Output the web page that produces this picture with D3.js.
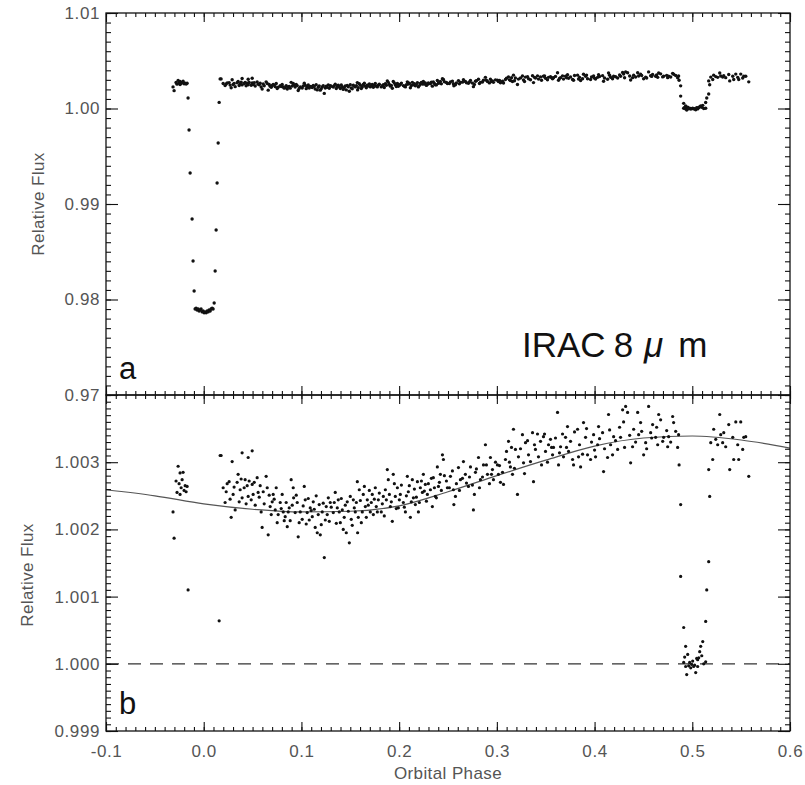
<!DOCTYPE html>
<html>
<head>
<meta charset="utf-8">
<script src="https://cdn.jsdelivr.net/npm/d3@7"></script>
<style>
  body { margin: 0; background: #fff; }
  text { font-family: "Liberation Sans", Arial, sans-serif; }
  .tick text { fill: #555; font-size: 17px; letter-spacing: 0.6px; }
  .tick line { stroke: #111; stroke-width: 1.1; }
  .domain { display: none; }
  .title { fill: #555; font-size: 17px; letter-spacing: 0.4px; }
</style>
</head>
<body>
<svg id="chart" width="805" height="785"></svg>
<script>
// ---- data: [orbital phase, relative flux] ----
var preTransit = [
  [-0.0314, 1.00226], [-0.0303, 1.00187], [-0.0283, 1.00272], [-0.0273, 1.00255], [-0.0262, 1.00294],
  [-0.0252, 1.00268], [-0.0242, 1.00284], [-0.0242, 1.00252], [-0.0231, 1.00262], [-0.0221, 1.00274],
  [-0.0211, 1.00285], [-0.0201, 1.00258], [-0.019, 1.00265], [-0.018, 1.00256], [-0.017, 1.00264]
];
var primaryTransit = [
  [-0.016, 1.0011], [-0.015, 0.99775], [-0.0139, 0.99325], [-0.0119, 0.98843],
  [-0.0109, 0.98403], [-0.0098, 0.98089], [-0.0088, 0.9790], [-0.0078, 0.9791],
  [-0.0068, 0.9789], [-0.0057, 0.9790], [-0.0047, 0.9788], [-0.0037, 0.9789],
  [-0.0027, 0.9790], [-0.0016, 0.9787], [-0.0006, 0.9788], [0.0004, 0.9786],
  [0.0014, 0.9787], [0.0025, 0.9786], [0.0035, 0.9788], [0.0045, 0.9787],
  [0.0055, 0.9789], [0.0066, 0.9788], [0.0076, 0.9790], [0.0086, 0.9791],
  [0.0096, 0.9790], [0.0107, 0.97963], [0.0117, 0.98298], [0.0127, 0.98728],
  [0.0137, 0.9922], [0.0148, 0.99639], [0.0158, 1.00064], [0.0168, 1.0031]
];
var orbit = [
  [0.0178, 1.00310], [0.0199, 1.00262], [0.0219, 1.00240], [0.026, 1.00271], [0.0281, 1.00218],
  [0.0291, 1.00301], [0.0301, 1.00252], [0.0322, 1.00229], [0.0352, 1.00282], [0.0373, 1.00259],
  [0.0393, 1.00314], [0.0393, 1.00247], [0.0424, 1.00274], [0.0445, 1.00265], [0.0455, 1.00307],
  [0.0455, 1.00249], [0.0496, 1.00317], [0.0496, 1.00267], [0.0506, 1.00252], [0.0547, 1.00277],
  [0.0557, 1.00255], [0.0578, 1.00265], [0.0598, 1.00203], [0.0609, 1.00256], [0.0639, 1.00279],
  [0.065, 1.00262], [0.066, 1.00192], [0.068, 1.00234], [0.0701, 1.00241], [0.0711, 1.00252],
  [0.0732, 1.00229], [0.0762, 1.00222], [0.0783, 1.0024], [0.0814, 1.00226], [0.0834, 1.00219],
  [0.0855, 1.00204], [0.0875, 1.00232], [0.0895, 1.00274], [0.0916, 1.00262], [0.092, 1.00247],
  [0.0936, 1.00225], [0.0957, 1.0024], [0.0967, 1.00189], [0.0988, 1.00226], [0.1008, 1.00215],
  [0.1029, 1.00264], [0.1039, 1.00244], [0.1059, 1.00225], [0.109, 1.00232], [0.1111, 1.00219],
  [0.1121, 1.00241], [0.1141, 1.00203], [0.1162, 1.00195], [0.1172, 1.00222], [0.1193, 1.00192],
  [0.1213, 1.00226], [0.1234, 1.00158], [0.1254, 1.00234], [0.1275, 1.00247], [0.1295, 1.0024],
  [0.1326, 1.00225], [0.1346, 1.00255], [0.1367, 1.00232], [0.1377, 1.00244], [0.1398, 1.0021],
  [0.1418, 1.00229], [0.1428, 1.002], [0.1459, 1.00195], [0.1469, 1.00241], [0.149, 1.0018],
  [0.151, 1.00215], [0.1531, 1.00244], [0.1551, 1.00226], [0.1572, 1.00271], [0.1575, 1.00195],
  [0.1592, 1.00259], [0.1613, 1.0021], [0.1633, 1.00252], [0.1654, 1.00234], [0.1674, 1.00244],
  [0.1705, 1.00226], [0.1725, 1.00252], [0.1736, 1.00222], [0.1766, 1.00234], [0.1787, 1.00244],
  [0.1817, 1.00226], [0.1838, 1.00249], [0.1859, 1.00259], [0.1879, 1.00289], [0.1889, 1.00274],
  [0.191, 1.00234], [0.193, 1.00212], [0.194, 1.00282], [0.1961, 1.00249], [0.1982, 1.00262],
  [0.1992, 1.00232], [0.2012, 1.00252], [0.2043, 1.0024], [0.2064, 1.00226], [0.2084, 1.00279],
  [0.2094, 1.00256], [0.2115, 1.00218], [0.2135, 1.00274], [0.2146, 1.00247], [0.2166, 1.00237],
  [0.2187, 1.00271], [0.2197, 1.00226], [0.2217, 1.00262], [0.2238, 1.00255], [0.2248, 1.00282],
  [0.2268, 1.00267], [0.2289, 1.00252], [0.232, 1.00259], [0.234, 1.00234], [0.235, 1.00277],
  [0.2371, 1.00249], [0.2391, 1.00293], [0.2402, 1.00264], [0.2422, 1.00282], [0.2443, 1.00311],
  [0.2453, 1.00304], [0.2494, 1.00262], [0.2525, 1.00279], [0.2555, 1.00259], [0.256, 1.00237],
  [0.2576, 1.00249], [0.2607, 1.00292], [0.2627, 1.00274], [0.2658, 1.00301], [0.2678, 1.00282],
  [0.2709, 1.00264], [0.273, 1.00293], [0.276, 1.00229], [0.277, 1.00252], [0.2781, 1.00285],
  [0.2812, 1.00307], [0.2832, 1.00274], [0.2863, 1.00296], [0.2883, 1.00326], [0.2904, 1.00282],
  [0.2934, 1.00307], [0.2955, 1.00289], [0.2965, 1.00274], [0.3006, 1.00296], [0.3016, 1.00282],
  [0.3037, 1.0027], [0.3068, 1.00267], [0.3088, 1.00304], [0.3119, 1.00331], [0.3139, 1.00293],
  [0.316, 1.00282], [0.317, 1.00349], [0.319, 1.00319], [0.3211, 1.00252], [0.3221, 1.00308],
  [0.3262, 1.00341], [0.3273, 1.00299], [0.3293, 1.00329], [0.3324, 1.00311], [0.3365, 1.00344],
  [0.3375, 1.00271], [0.3395, 1.00319], [0.3426, 1.00308], [0.3447, 1.00331], [0.3477, 1.00338],
  [0.3498, 1.00316], [0.3529, 1.00326], [0.3549, 1.00334], [0.357, 1.00311], [0.358, 1.00322],
  [0.3621, 1.00374], [0.3631, 1.00296], [0.3652, 1.00323], [0.3682, 1.00308], [0.3703, 1.00337],
  [0.3723, 1.00353], [0.3734, 1.00316], [0.3775, 1.00304], [0.3785, 1.00296], [0.3826, 1.00349],
  [0.3836, 1.00308], [0.3857, 1.00293], [0.3887, 1.00359], [0.3908, 1.00337], [0.3928, 1.00311],
  [0.3959, 1.00304], [0.399, 1.00341], [0.401, 1.00308], [0.4031, 1.00326], [0.4041, 1.00353],
  [0.4082, 1.00344], [0.4092, 1.00286], [0.4133, 1.00307], [0.4143, 1.00371], [0.4164, 1.00326],
  [0.4184, 1.00311], [0.4195, 1.00338], [0.4236, 1.00319], [0.4266, 1.00337], [0.4287, 1.00378],
  [0.4297, 1.0036], [0.4318, 1.00383], [0.4338, 1.00374], [0.4369, 1.00299], [0.4389, 1.00323],
  [0.44, 1.00349], [0.4441, 1.00374], [0.4451, 1.00341], [0.4471, 1.00359], [0.4502, 1.00311],
  [0.4523, 1.00329], [0.4553, 1.00383], [0.4574, 1.00344], [0.4594, 1.00356], [0.4625, 1.00337],
  [0.4646, 1.00326], [0.4656, 1.00371], [0.4676, 1.00363], [0.4707, 1.00337], [0.4748, 1.00323],
  [0.4758, 1.00338], [0.4799, 1.00368], [0.4809, 1.00359], [0.485, 1.00322], [0.486, 1.00341],
  [0.4865, 1.00296]
];
// more points of the same out-of-eclipse cloud, read where it is densest
var orbitDense = [
  [0.0230, 1.00256], [0.0240, 1.00268], [0.0270, 1.00245], [0.0311, 1.00263], [0.0342, 1.00270],
  [0.0363, 1.00241], [0.0383, 1.00275], [0.0414, 1.00262], [0.0434, 1.00238], [0.0465, 1.00272],
  [0.0486, 1.00244], [0.0517, 1.00270], [0.0527, 1.00236], [0.0568, 1.00248], [0.0588, 1.00226],
  [0.0619, 1.00238], [0.0670, 1.00251], [0.0691, 1.00222], [0.0721, 1.00245], [0.0742, 1.00262],
  [0.0752, 1.00210], [0.0793, 1.00231], [0.0803, 1.00252], [0.0824, 1.00213], [0.0844, 1.00240],
  [0.0865, 1.00226], [0.0885, 1.00213], [0.0906, 1.00236], [0.0947, 1.00251], [0.0977, 1.00210],
  [0.1018, 1.00235], [0.1049, 1.00208], [0.1070, 1.00246], [0.1080, 1.00214], [0.1100, 1.00228],
  [0.1131, 1.00230], [0.1151, 1.00250], [0.1182, 1.00237], [0.1203, 1.00207], [0.1223, 1.00239],
  [0.1244, 1.00214], [0.1264, 1.00222], [0.1285, 1.00212], [0.1305, 1.00233], [0.1336, 1.00240],
  [0.1357, 1.00209], [0.1387, 1.00226], [0.1408, 1.00246], [0.1438, 1.00218], [0.1449, 1.00236],
  [0.1480, 1.00227], [0.1500, 1.00249], [0.1520, 1.00206], [0.1541, 1.00232], [0.1562, 1.00240],
  [0.1582, 1.00218], [0.1603, 1.00243], [0.1623, 1.00226], [0.1644, 1.00264], [0.1664, 1.00218],
  [0.1684, 1.00236], [0.1695, 1.00258], [0.1715, 1.00240], [0.1746, 1.00245], [0.1756, 1.00262],
  [0.1777, 1.00226], [0.1797, 1.00254], [0.1828, 1.00238], [0.1848, 1.00220], [0.1869, 1.00244],
  [0.1900, 1.00252], [0.1920, 1.00241], [0.1951, 1.00268], [0.1971, 1.00231], [0.2002, 1.00244],
  [0.2023, 1.00266], [0.2053, 1.00233], [0.2074, 1.00250], [0.2104, 1.00265], [0.2125, 1.00241],
  [0.2156, 1.00260], [0.2176, 1.00248], [0.2207, 1.00240], [0.2228, 1.00272], [0.2258, 1.00257],
  [0.2279, 1.00242], [0.2299, 1.00268], [0.2330, 1.00276], [0.2361, 1.00262], [0.2381, 1.00247],
  [0.2412, 1.00270], [0.2432, 1.00258], [0.2463, 1.00280], [0.2484, 1.00272], [0.2514, 1.00262],
  [0.2545, 1.00287], [0.2586, 1.00268], [0.2617, 1.00258], [0.2648, 1.00276], [0.2689, 1.00269],
  [0.2720, 1.00278], [0.2750, 1.00266], [0.2791, 1.00290], [0.2822, 1.00262], [0.2853, 1.00278],
  [0.2893, 1.00296], [0.2924, 1.00268], [0.2945, 1.00282], [0.2986, 1.00300], [0.3027, 1.00295],
  [0.3058, 1.00285], [0.3099, 1.00316], [0.3129, 1.00300], [0.3150, 1.00322], [0.3180, 1.00291],
  [0.3242, 1.00320], [0.3283, 1.00283], [0.3314, 1.00332], [0.3344, 1.00301], [0.3385, 1.00326],
  [0.3416, 1.00342], [0.3457, 1.00296], [0.3488, 1.00342], [0.3518, 1.00300], [0.3560, 1.00322],
  [0.3600, 1.00336], [0.3641, 1.00314], [0.3672, 1.00342], [0.3713, 1.00322], [0.3754, 1.00331],
  [0.3795, 1.00345], [0.3846, 1.00326], [0.3877, 1.00312], [0.3918, 1.00350], [0.3969, 1.00330],
  [0.4000, 1.00318], [0.4051, 1.00335], [0.4102, 1.00320], [0.4154, 1.00348], [0.4215, 1.00332],
  [0.4256, 1.00352], [0.4307, 1.00322], [0.4359, 1.00340], [0.4420, 1.00330], [0.4482, 1.00346],
  [0.4533, 1.00320], [0.4584, 1.00336], [0.4635, 1.00352], [0.4697, 1.00331], [0.4738, 1.00347],
  [0.4779, 1.00330], [0.4830, 1.00346]
];
var secondaryEclipse = [
  [0.4881, 1.00237], [0.4881, 1.0013], [0.4912, 1.00054], [0.4932, 1.00026], [0.4953, 1.00014],
  [0.4912, 1.00002], [0.4922, 1.0001], [0.4932, 0.99996], [0.4943, 0.99984], [0.4963, 0.99997],
  [0.4973, 1.00002], [0.4984, 0.99994], [0.4994, 0.99999], [0.5004, 1.00004], [0.5014, 0.99996],
  [0.5024, 0.99998], [0.5035, 0.99987], [0.5055, 0.99996], [0.5055, 1.00006], [0.5045, 1.00008],
  [0.5066, 1.00009], [0.5076, 1.00018], [0.5086, 1.00026], [0.5097, 1.00012], [0.5107, 1.00033],
  [0.5117, 1.0], [0.5137, 1.00003], [0.5137, 1.00063], [0.5148, 1.0011], [0.5168, 1.00152]
];
var postEclipse = [
  [0.5168, 1.00289], [0.5178, 1.00249], [0.5189, 1.00329], [0.5209, 1.00304], [0.5219, 1.00349],
  [0.524, 1.00334], [0.526, 1.00326], [0.5281, 1.00371], [0.5291, 1.00341], [0.5311, 1.00329],
  [0.5322, 1.00344], [0.5342, 1.00323], [0.5373, 1.00356], [0.5383, 1.00289], [0.5414, 1.00337],
  [0.5424, 1.00304], [0.5445, 1.0036], [0.5465, 1.00326], [0.5475, 1.00304], [0.5496, 1.0036],
  [0.5516, 1.00319], [0.5527, 1.00337], [0.5547, 1.00338], [0.5578, 1.00279]
];
// phase-curve model drawn in panel b
var curvePhase = [-0.1, -0.05, 0.0, 0.05, 0.1, 0.15, 0.2, 0.25, 0.3, 0.35, 0.4, 0.45, 0.5, 0.55, 0.6];
var curveFlux = [1.00259, 1.0025, 1.00238, 1.0023, 1.00226, 1.00227, 1.00235, 1.00256,
                 1.0028, 1.00303, 1.00324, 1.00336, 1.00339, 1.00333, 1.00321];

var xTicks = [-0.1, 0.0, 0.1, 0.2, 0.3, 0.4, 0.5, 0.6];
var yTicksA = [0.97, 0.98, 0.99, 1.00, 1.01];
var yTicksB = [0.999, 1.000, 1.001, 1.002, 1.003];

var allPoints = preTransit.concat(primaryTransit, orbit, orbitDense, secondaryEclipse, postEclipse);

// ---- layout ----
var left = 106, right = 790;
var topA = 13, botA = 395, topB = 395, botB = 731;

var svg = d3.select("#chart");

var x = d3.scaleLinear().domain([-0.1, 0.6]).range([left, right]);
var yA = d3.scaleLinear().domain([0.97, 1.01]).range([botA, topA]);
var yB = d3.scaleLinear().domain([0.999, 1.004]).range([botB, topB]);

var xMinor = d3.range(-100, 601, 10).map(function(d) { return d / 1000; });
var fmtX = function(d) { return d.toFixed(1); };

var defs = svg.append("defs");
defs.append("clipPath").attr("id", "clipA").append("rect")
    .attr("x", left).attr("y", topA).attr("width", right - left).attr("height", botA - topA);
defs.append("clipPath").attr("id", "clipB").append("rect")
    .attr("x", left).attr("y", topB).attr("width", right - left).attr("height", botB - topB);

function drawAxes(y, yMajor, yMinor, yFmt, top, bot, showX) {
  // left
  svg.append("g").attr("transform", "translate(" + left + ",0)")
    .call(d3.axisLeft(y).tickValues(yMinor).tickSize(-5).tickFormat(""));
  svg.append("g").attr("transform", "translate(" + left + ",0)")
    .call(d3.axisLeft(y).tickValues(yMajor).tickSize(-12).tickPadding(6).tickFormat(yFmt));
  // right
  svg.append("g").attr("transform", "translate(" + right + ",0)")
    .call(d3.axisRight(y).tickValues(yMinor).tickSize(-5).tickFormat(""));
  svg.append("g").attr("transform", "translate(" + right + ",0)")
    .call(d3.axisRight(y).tickValues(yMajor).tickSize(-12).tickFormat(""));
  // top
  svg.append("g").attr("transform", "translate(0," + top + ")")
    .call(d3.axisTop(x).tickValues(xMinor).tickSize(-4).tickFormat(""));
  svg.append("g").attr("transform", "translate(0," + top + ")")
    .call(d3.axisTop(x).tickValues(xTicks).tickSize(-9).tickFormat(""));
  // bottom
  svg.append("g").attr("transform", "translate(0," + bot + ")")
    .call(d3.axisBottom(x).tickValues(xMinor).tickSize(-4).tickFormat(""));
  svg.append("g").attr("class", "xaxis").attr("transform", "translate(0," + bot + ")")
    .call(d3.axisBottom(x).tickValues(xTicks).tickSize(-9).tickPadding(14)
      .tickFormat(showX ? fmtX : ""));
  svg.append("rect")
    .attr("x", left).attr("y", top).attr("width", right - left).attr("height", bot - top)
    .attr("fill", "none").attr("stroke", "#111").attr("stroke-width", 1.3);
}

// ---- panel a ----
var gA = svg.append("g").attr("clip-path", "url(#clipA)");
gA.selectAll("circle").data(allPoints).enter().append("circle")
    .attr("cx", function(d) { return x(d[0]); })
    .attr("cy", function(d) { return yA(d[1]); })
    .attr("r", 1.7)
    .attr("fill", "#111");

drawAxes(yA, yTicksA, d3.range(970, 1011, 1).map(function(d) { return d / 1000; }),
  function(d) { return d.toFixed(2); }, topA, botA, false);

// ---- panel b ----
var gB = svg.append("g").attr("clip-path", "url(#clipB)");
gB.append("line")
    .attr("x1", left).attr("x2", right)
    .attr("y1", yB(1.0)).attr("y2", yB(1.0))
    .attr("stroke", "#333").attr("stroke-width", 1.2)
    .attr("stroke-dasharray", "13,9");
gB.append("path")
    .datum(curvePhase.map(function(p, i) { return [p, curveFlux[i]]; }))
    .attr("fill", "none").attr("stroke", "#555").attr("stroke-width", 1.2)
    .attr("d", d3.line()
      .x(function(d) { return x(d[0]); })
      .y(function(d) { return yB(d[1]); })
      .curve(d3.curveMonotoneX));
gB.selectAll("circle").data(allPoints).enter().append("circle")
    .attr("cx", function(d) { return x(d[0]); })
    .attr("cy", function(d) { return yB(d[1]); })
    .attr("r", 1.6)
    .attr("fill", "#111");

drawAxes(yB, yTicksB, d3.range(9990, 10041, 1).map(function(d) { return d / 10000; }),
  function(d) { return d.toFixed(3); }, topB, botB, true);

// ---- labels ----
svg.append("text").attr("class", "title")
    .attr("transform", "translate(44," + ((topA + botA) / 2) + ") rotate(-90)")
    .attr("text-anchor", "middle")
    .text("Relative Flux");
svg.append("text").attr("class", "title")
    .attr("transform", "translate(33," + ((topB + botB) / 2 + 12) + ") rotate(-90)")
    .attr("text-anchor", "middle")
    .text("Relative Flux");
svg.append("text").attr("class", "title")
    .attr("x", (left + right) / 2).attr("y", 779)
    .attr("text-anchor", "middle")
    .text("Orbital Phase");

svg.append("text").attr("x", 119).attr("y", 379)
    .attr("font-size", 31).attr("fill", "#111").text("a");
svg.append("text").attr("x", 119).attr("y", 714)
    .attr("font-size", 31).attr("fill", "#111").text("b");

var irac = svg.append("text").attr("x", 522).attr("y", 357)
    .attr("font-size", 35).attr("fill", "#111");
irac.append("tspan").text("IRAC");
irac.append("tspan").attr("dx", 8).text("8");
irac.append("tspan").attr("dx", 11).attr("font-style", "italic").text("\u03bc");
irac.append("tspan").attr("dx", 15).text("m");
</script>
</body>
</html>
